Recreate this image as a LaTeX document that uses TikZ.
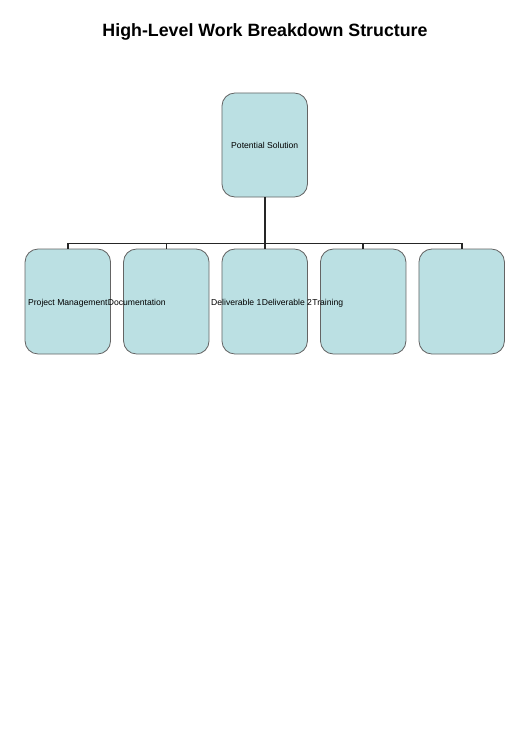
\documentclass[tikz,border=0pt]{standalone}
\usepackage{fontspec}
\setmainfont{Liberation Sans}
\usetikzlibrary{positioning}
\definecolor{boxblue}{RGB}{187,224,227}
\definecolor{boxline}{RGB}{100,100,100}

\begin{document}
\begin{tikzpicture}[x=1pt,y=-1pt,
    box/.style={draw=boxline,line width=0.8pt,fill=boxblue,rounded corners=13pt,minimum width=85.5pt,minimum height=105pt,inner sep=0pt},
    lbl/.style={inner sep=0pt,font=\fontsize{8.6}{10}\selectfont,text height=6.3pt,text depth=1.8pt}]
        \useasboundingbox (0,0) rectangle (530,749);
        \path
        % title
        +(265,37)  node[anchor=base,font=\fontsize{17.8}{21}\selectfont\bfseries]  (title) {High-Level Work Breakdown Structure}
        % 1st level
        +(264.7,145)  node[box,minimum height=104pt,font=\fontsize{8.6}{10}\selectfont,text height=6.3pt]  (top) {Potential Solution}
        % 2nd level
        +(67.8,301.5)  node[box]  (b1) {}
        +(166.3,301.5)  node[box]  (b2) {}
        +(264.7,301.5)  node[box]  (b3) {}
        +(363.2,301.5)  node[box]  (b4) {}
        +(461.7,301.5)  node[box]  (b5) {};

        \foreach \b in {b1,b2,b3,b4,b5}
            \draw[line width=1.6pt,black!85] (top.south) -- +(0,46) -| (\b.north);

        \node[lbl,yshift=-1.5pt] (pm) at (b1.center) {Project Management};
        \node[lbl,right=0pt of pm] (doc) {Documentation};
        \node[lbl,anchor=west] (del1) at (211,303) {Deliverable 1};
        \node[lbl,right=0pt of del1] (del2) {Deliverable 2};
        \node[lbl,right=0pt of del2] (train) {Training};

    \end{tikzpicture}
\end{document}
